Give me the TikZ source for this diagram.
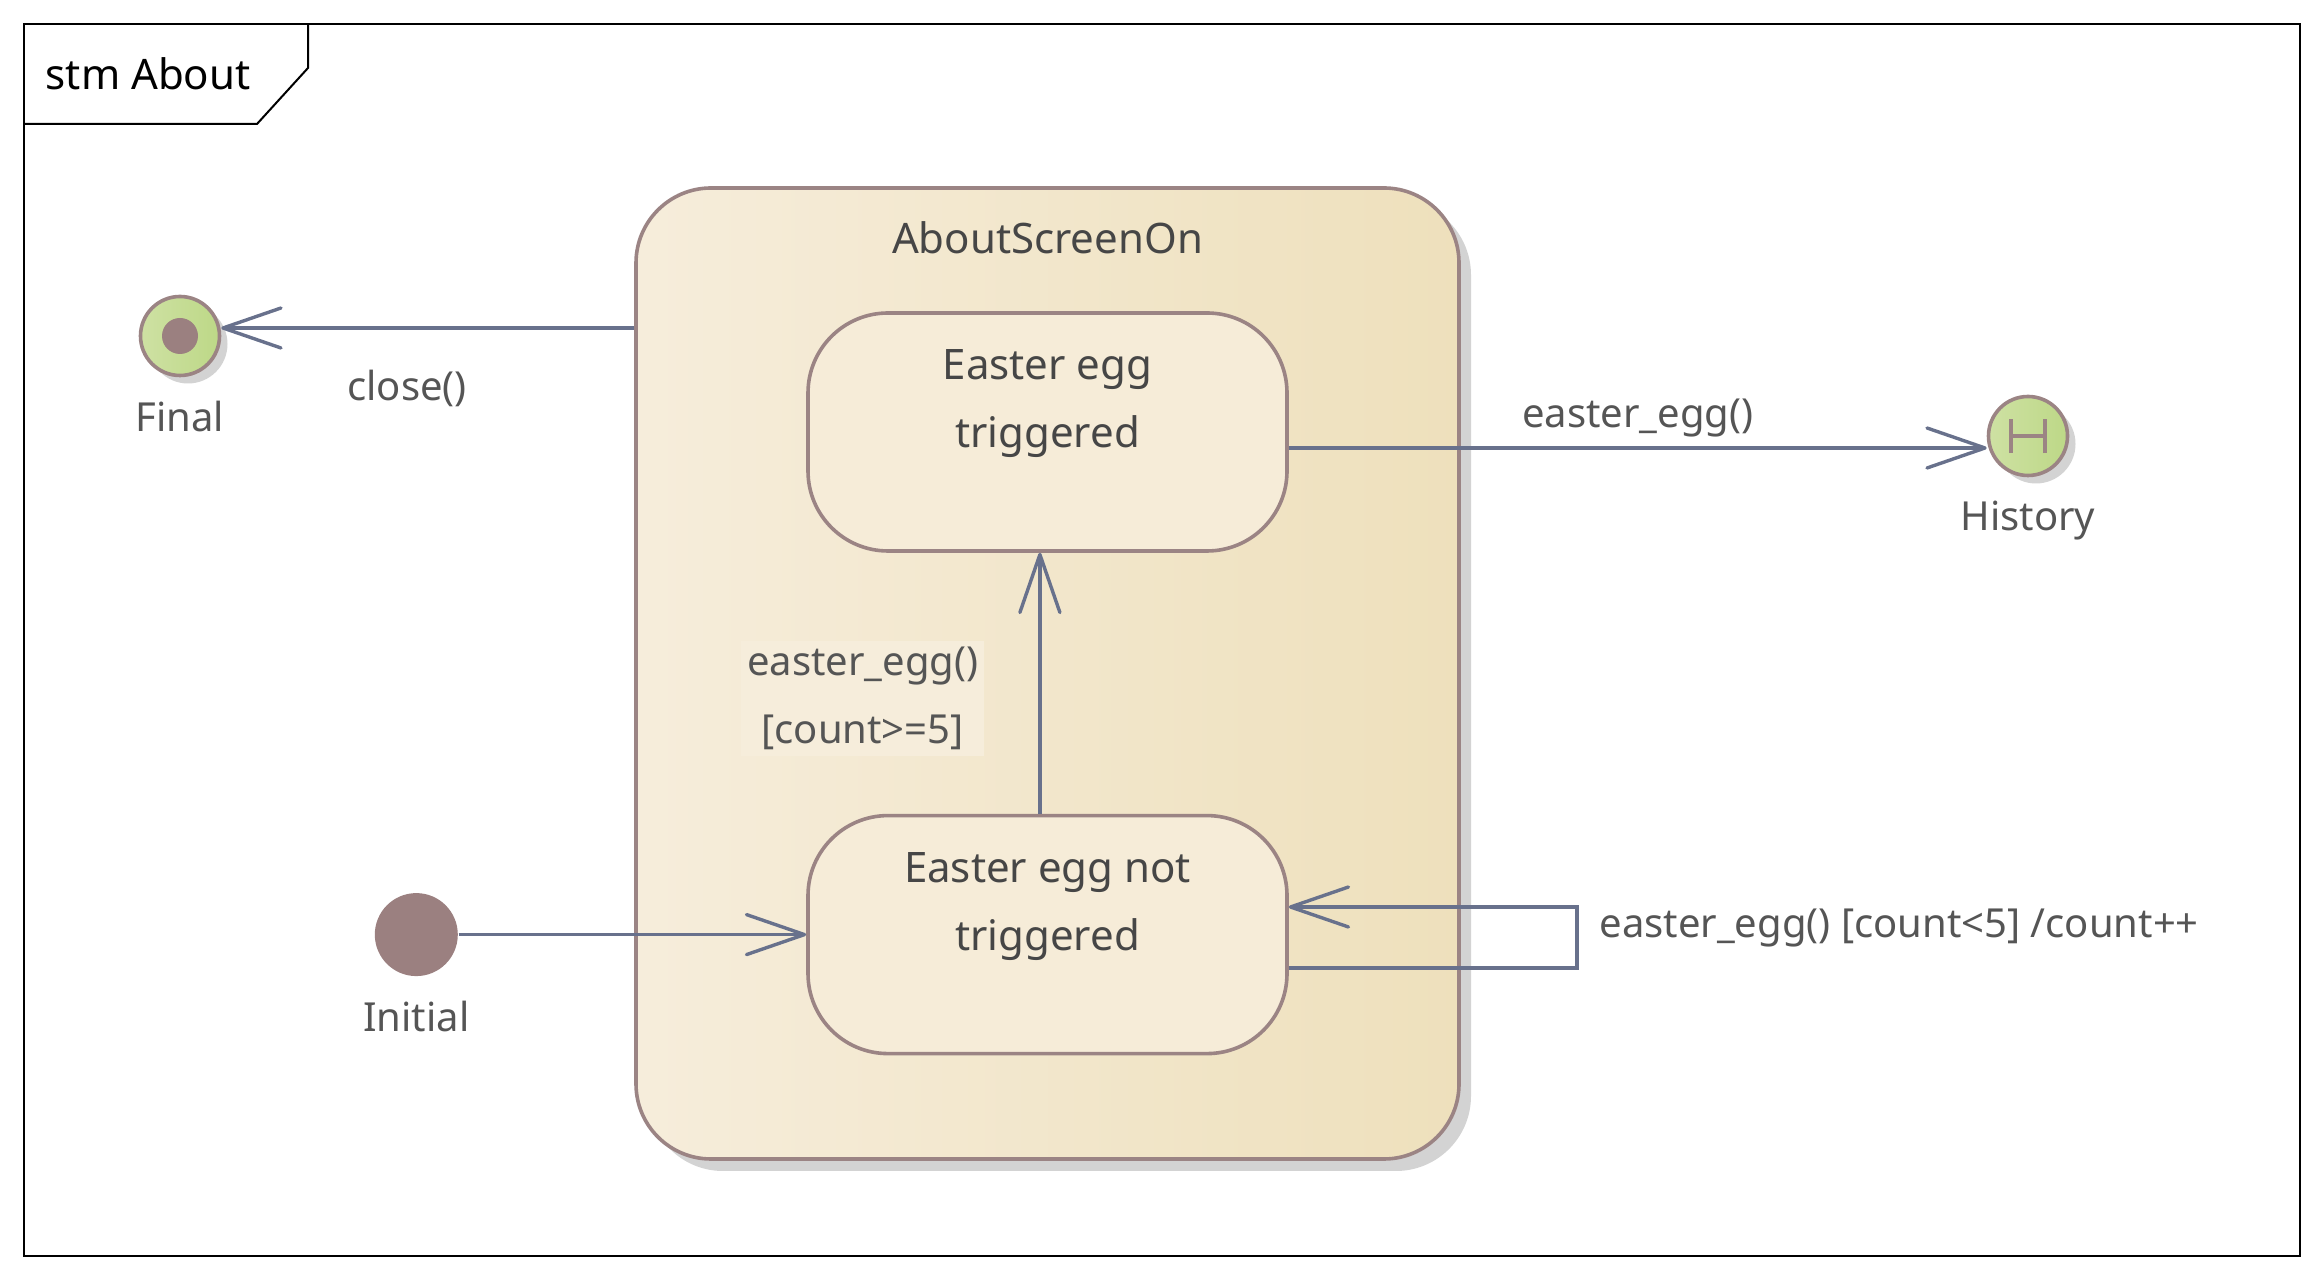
\documentclass[tikz,border=0pt]{standalone}
\usepackage{fontspec}
\setmainfont{Noto Sans}
\usetikzlibrary{arrows.meta,positioning,shadows}

\definecolor{mauve}{RGB}{155,132,132}
\definecolor{slate}{RGB}{104,113,140}
\definecolor{txtgray}{RGB}{85,85,85}
\definecolor{namegray}{RGB}{70,70,70}
\definecolor{beigeL}{RGB}{246,237,219}
\definecolor{beigeR}{RGB}{238,224,188}
\definecolor{beigeS}{RGB}{246,236,216}
\definecolor{greenL}{RGB}{206,225,163}
\definecolor{greenR}{RGB}{189,216,135}
\definecolor{dotcol}{RGB}{155,128,128}
\definecolor{shadowgray}{RGB}{211,211,211}

\begin{document}
\begin{tikzpicture}[x=0.25pt,y=-0.25pt,->,>={Straight Barb[length=14.5pt,width=10pt,round]},
                    font=\fontsize{10}{17}\selectfont,text=txtgray]

  \tikzstyle{superstate}=[rectangle,rounded corners=18.75pt,draw=mauve,line width=0.9pt,
                          left color=beigeL,right color=beigeR,minimum width=205.75pt,minimum height=242.75pt,
                          drop shadow={shadow xshift=3pt,shadow yshift=-3pt,fill=shadowgray,opacity=1}]
  \tikzstyle{simplestate}=[rectangle,rounded corners=20pt,draw=mauve,line width=0.9pt,fill=beigeS,
                           minimum width=119.75pt,minimum height=59.5pt]
  \tikzstyle{bigtext}=[font=\fontsize{10.5}{17}\selectfont]
  \tikzstyle{statename}=[bigtext,anchor=north,inner sep=0pt,align=center,yshift=-9.4pt,text=namegray]
  \tikzstyle{pseudo}=[circle,draw=mauve,line width=0.9pt,left color=greenL,right color=greenR,
                      minimum size=19.75pt,inner sep=0pt,
                      drop shadow={shadow xshift=2pt,shadow yshift=-2pt,fill=shadowgray,opacity=1}]
  \tikzstyle{lbl}=[inner sep=0pt]
  \tikzstyle{trans}=[draw=slate,line width=0.85pt]
  \tikzstyle{every edge}=[trans]

  \useasboundingbox (0,0) rectangle (2324,1280);

  % frame
  \draw[-,black,line width=0.5pt] (24,24) rectangle (2300,1256);
  \draw[-,black,line width=0.5pt] (24,124) -- (257,124) -- (308,68) -- (308,24);
  \node[lbl,bigtext,anchor=base west,text=black] (frametitle) at (45,90) {stm About};

  % states
  \node[superstate]  (screenon) at (1047.5,673.5) {};
  \node[lbl,bigtext,text=namegray] (screentitle) at ([yshift=-13pt]screenon.north) {AboutScreenOn};
  \node[simplestate,label={[statename]north:Easter egg\\triggered}]     (eggon) at (1047.5,432) {};
  \node[simplestate,label={[statename]north:Easter egg not\\triggered}] (eggoff) [below=65.25pt of eggon] {};

  \node[circle,fill=dotcol,minimum size=20.75pt,inner sep=0pt,
        label={[lbl,label distance=5.8pt]below:Initial}] (initial) [left=86.9pt of eggoff] {};
  \node[pseudo,label={[lbl,label distance=5.8pt]below:Final},
        path picture={\fill[dotcol] (path picture bounding box.center) circle (4.5pt);}] (final) at (180,336) {};
  \node[pseudo,label={[lbl,label distance=5.8pt]below:History},
        path picture={\draw[-,mauve,line width=0.9pt]
          ([shift={(-4.3pt,-4.3pt)}]path picture bounding box.center) -- ([shift={(-4.3pt,4.3pt)}]path picture bounding box.center)
          ([shift={(4.3pt,-4.3pt)}]path picture bounding box.center) -- ([shift={(4.3pt,4.3pt)}]path picture bounding box.center)
          ([xshift=-4.3pt]path picture bounding box.center) -- ([xshift=4.3pt]path picture bounding box.center);}] (history) at (2028,436) {};

  \coordinate (closeout) at ([yshift=2pt]final.center -| screenon.west);
  \coordinate (histin)   at ([yshift=-3pt]history.west);

  \path
  (closeout) edge node[lbl,pos=0.55,below=10pt] {close()} (closeout -| final.east)
  (eggon.east |- histin) edge node[lbl,above=2.25pt] {easter\_egg()} (histin)
  (initial) edge (eggoff)
  ([xshift=-1.9pt]eggoff.north) edge node[lbl,left=13.5pt,yshift=-3.75pt,fill=beigeL,inner sep=1.5pt,align=center]
                                   {easter\_egg()\\{}[count>=5]} ([xshift=-1.9pt]eggon.south)
  ;

  \draw[trans] ([yshift=-8.4pt]eggoff.east) -- ++(288,0)
    |- node[lbl,pos=0.25,right=5.25pt,yshift=2.4pt] {easter\_egg() [count<5] /count++} ([yshift=6.9pt]eggoff.east);
\end{tikzpicture}
\end{document}
